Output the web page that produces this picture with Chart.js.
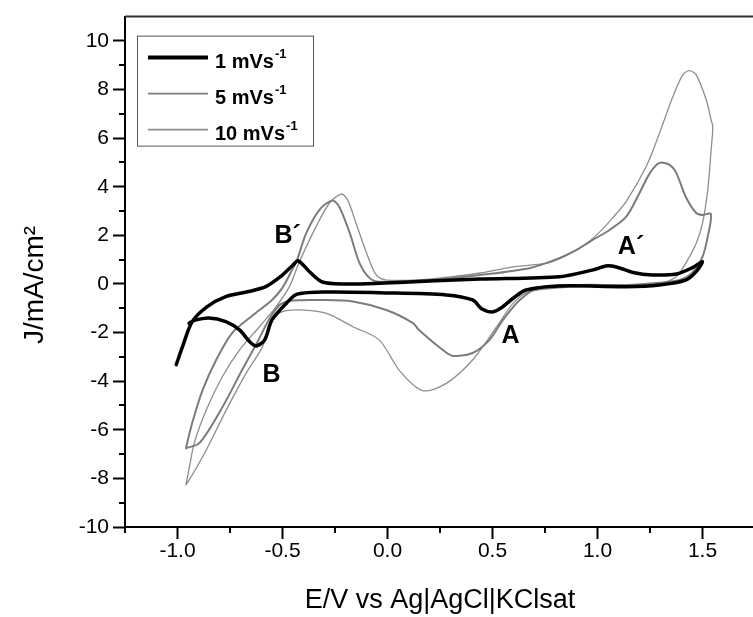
<!DOCTYPE html>
<html>
<head>
<meta charset="utf-8">
<script src="https://cdn.jsdelivr.net/npm/chart.js@4/dist/chart.umd.min.js"></script>
<style>
  html, body { margin: 0; padding: 0; background: #fff; overflow: hidden; }
  #cv-chart { display: block; }
</style>
</head>
<body>
<canvas id="cv-chart" width="760" height="617"></canvas>
<script>
// Potential (V) and current density (mA/cm2), in scan order
const slowX = [-1.006, -0.976, -0.93, -0.86, -0.77, -0.66, -0.58, -0.51, -0.45, -0.425, -0.37, -0.31, -0.2, -0.04, 0.2, 0.44, 0.82, 0.98, 1.04, 1.09, 1.17, 1.26, 1.375, 1.45, 1.5, 1.47, 1.42, 1.295, 1.14, 0.82, 0.66, 0.6, 0.54, 0.5, 0.45, 0.405, 0.28, -0.04, -0.28, -0.43, -0.48, -0.55, -0.585, -0.625, -0.657, -0.705, -0.77, -0.85, -0.92, -0.945];
const slowY = [-3.32, -2.58, -1.55, -0.94, -0.52, -0.31, -0.11, 0.30, 0.78, 0.95, 0.49, 0.08, 0.0, 0.03, 0.12, 0.2, 0.3, 0.58, 0.74, 0.70, 0.47, 0.37, 0.41, 0.66, 0.92, 0.51, 0.16, -0.04, -0.11, -0.08, -0.25, -0.58, -0.99, -1.15, -1.03, -0.66, -0.45, -0.36, -0.33, -0.42, -0.78, -1.48, -2.3, -2.55, -2.37, -1.89, -1.55, -1.4, -1.5, -1.62];

const midX = [-0.96, -0.93, -0.88, -0.816, -0.74, -0.64, -0.55, -0.5, -0.45, -0.43, -0.387, -0.324, -0.263, -0.23, -0.18, -0.133, -0.086, -0.04, 0.2, 0.44, 0.68, 0.82, 0.9, 0.977, 1.057, 1.137, 1.2, 1.25, 1.295, 1.343, 1.375, 1.42, 1.47, 1.5, 1.54, 1.525, 1.5, 1.45, 1.39, 1.295, 1.137, 0.91, 0.72, 0.63, 0.55, 0.486, 0.405, 0.31, 0.264, 0.15, 0.12, -0.006, -0.165, -0.32, -0.45, -0.51, -0.56, -0.62, -0.69, -0.785, -0.895, -0.96];
const midY = [-6.76, -5.72, -4.36, -3.13, -2.02, -1.28, -0.66, -0.15, 0.65, 1.0, 2.09, 3.05, 3.43, 3.18, 2.1, 0.86, 0.25, 0.09, 0.16, 0.37, 0.66, 1.07, 1.4, 1.81, 2.22, 2.77, 3.74, 4.57, 4.98, 4.9, 4.57, 3.59, 2.92, 2.84, 2.88, 1.95, 1.12, 0.45, 0.16, 0.05, -0.04, -0.04, -0.16, -0.66, -1.48, -2.3, -2.84, -2.96, -2.72, -1.89, -1.6, -1.07, -0.72, -0.66, -0.68, -0.84, -1.4, -2.4, -3.5, -5.05, -6.54, -6.76];

const fastX = [-0.96, -0.943, -0.92, -0.863, -0.786, -0.705, -0.61, -0.53, -0.467, -0.42, -0.34, -0.276, -0.22, -0.19, -0.15, -0.1, -0.054, -0.006, 0.2, 0.44, 0.6, 0.77, 0.86, 0.93, 1.0, 1.07, 1.137, 1.232, 1.295, 1.359, 1.406, 1.438, 1.47, 1.518, 1.541, 1.549, 1.541, 1.525, 1.5, 1.47, 1.42, 1.375, 1.295, 1.137, 0.91, 0.676, 0.6, 0.52, 0.405, 0.28, 0.167, 0.06, -0.04, -0.165, -0.29, -0.42, -0.5, -0.55, -0.595, -0.673, -0.768, -0.863, -0.93, -0.96];
const fastY = [-8.27, -7.52, -6.54, -5.19, -3.81, -2.72, -1.76, -0.93, -0.11, 0.9, 2.36, 3.33, 3.7, 3.46, 2.5, 1.28, 0.37, 0.16, 0.2, 0.45, 0.7, 0.88, 1.2, 1.55, 2.05, 2.7, 3.4, 4.83, 6.2, 7.71, 8.6, 8.78, 8.6, 7.57, 6.75, 6.47, 5.51, 3.87, 2.5, 1.67, 0.85, 0.3, 0.03, -0.04, -0.11, -0.32, -0.78, -1.76, -3.13, -4.09, -4.39, -3.6, -2.3, -1.76, -1.21, -1.07, -1.14, -1.48, -2.58, -3.67, -5.19, -6.83, -7.86, -8.27];

const seriesNames = ['1 mVs', '5 mVs', '10 mVs'];
const xTicks = [-1.0, -0.5, 0.0, 0.5, 1.0, 1.5];
const xMinorTicks = [-1.25, -0.75, -0.25, 0.25, 0.75, 1.25];
const yTicks = [-10, -8, -6, -4, -2, 0, 2, 4, 6, 8, 10];
const yMinorTicks = [-9, -7, -5, -3, -1, 1, 3, 5, 7, 9];

// Peak labels, anchored at the left end of their baseline (data units)
const peakNames = ['B´', 'B', 'A', 'A´'];
const peakX = [-0.538, -0.595, 0.543, 1.097];
const peakY = [1.69, -4.03, -2.43, 1.23];

const FONT = "'Liberation Sans', Arial, Helvetica, sans-serif";

function toPoints(xs, ys) {
    return xs.map((x, i) => ({ x: x, y: ys[i] }));
}

// Frame top, minor ticks, peak labels, legend box and y title
const decorations = {
    id: 'decorations',
    afterDraw(chart) {
        const { ctx, chartArea } = chart;
        const xs = chart.scales.x;
        const ys = chart.scales.y;
        ctx.save();

        // top edge of the frame
        ctx.strokeStyle = '#333';
        ctx.lineWidth = 2;
        ctx.beginPath();
        ctx.moveTo(chartArea.left, chartArea.top);
        ctx.lineTo(chartArea.right, chartArea.top);
        ctx.stroke();

        // minor ticks
        ctx.strokeStyle = '#000';
        ctx.lineWidth = 2;
        ctx.beginPath();
        xMinorTicks.forEach(v => {
            const px = Math.round(xs.getPixelForValue(v));
            ctx.moveTo(px, chartArea.bottom);
            ctx.lineTo(px, chartArea.bottom + 6);
        });
        yMinorTicks.forEach(v => {
            const py = Math.round(ys.getPixelForValue(v));
            ctx.moveTo(chartArea.left, py);
            ctx.lineTo(chartArea.left - 6, py);
        });
        ctx.stroke();

        // peak labels
        ctx.fillStyle = '#000';
        ctx.font = 'bold 25px ' + FONT;
        ctx.textAlign = 'left';
        ctx.textBaseline = 'alphabetic';
        peakNames.forEach((name, i) => {
            ctx.fillText(name, xs.getPixelForValue(peakX[i]), ys.getPixelForValue(peakY[i]));
        });

        // legend
        const boxX = chartArea.left + 12;
        const boxY = chartArea.top + 19;
        ctx.strokeStyle = '#555';
        ctx.lineWidth = 1;
        ctx.strokeRect(boxX + 0.5, boxY + 0.5, 176, 110);
        chart.data.datasets.forEach((ds, i) => {
            const lineY = boxY + 22 + i * 36;
            ctx.strokeStyle = ds.borderColor;
            ctx.lineWidth = i === 0 ? 4 : 1.6;
            ctx.beginPath();
            ctx.moveTo(boxX + 11, lineY);
            ctx.lineTo(boxX + 71, lineY);
            ctx.stroke();

            ctx.fillStyle = '#000';
            ctx.font = 'bold 20px ' + FONT;
            const textX = boxX + 78;
            ctx.fillText(seriesNames[i], textX, lineY + 10);
            const w = ctx.measureText(seriesNames[i]).width;
            ctx.font = 'bold 13px ' + FONT;
            ctx.fillText('-1', textX + w + 1, lineY);
        });

        // y axis title
        ctx.fillStyle = '#000';
        ctx.font = '28px ' + FONT;
        ctx.textAlign = 'center';
        ctx.textBaseline = 'middle';
        ctx.translate(35, 285);
        ctx.rotate(-Math.PI / 2);
        ctx.fillText('J/mA/cm²', 0, 0);

        ctx.restore();
    }
};

function initializeChart() {
    const ctx = document.getElementById('cv-chart');
    new Chart(ctx, {
        type: 'scatter',
        data: {
            datasets: [{
                label: '1 mV/s',
                data: toPoints(slowX, slowY),
                borderColor: '#000000',
                borderWidth: 3.5
            }, {
                label: '5 mV/s',
                data: toPoints(midX, midY),
                borderColor: '#7c7c7c',
                borderWidth: 2
            }, {
                label: '10 mV/s',
                data: toPoints(fastX, fastY),
                borderColor: '#8e8e8e',
                borderWidth: 1.3
            }]
        },
        options: {
            responsive: false,
            animation: false,
            showLine: true,
            layout: { padding: { top: 16, right: 5, left: 0, bottom: 0 } },
            elements: {
                point: { radius: 0, hoverRadius: 0 },
                line: { tension: 0.3, fill: false, borderCapStyle: 'round', borderJoinStyle: 'round' }
            },
            plugins: {
                legend: { display: false },
                tooltip: { enabled: false }
            },
            scales: {
                x: {
                    type: 'linear',
                    min: -1.25,
                    max: 1.75,
                    afterBuildTicks: s => { s.ticks = xTicks.map(v => ({ value: v })); },
                    afterFit: s => { s.height = 90; },
                    border: { color: '#000', width: 2 },
                    grid: { drawOnChartArea: false, drawTicks: true, tickLength: 12, tickWidth: 2, tickColor: '#000' },
                    ticks: {
                        color: '#000',
                        font: { family: FONT, size: 21 },
                        padding: 0,
                        maxRotation: 0,
                        autoSkip: false,
                        callback: v => v.toFixed(1)
                    },
                    title: {
                        display: true,
                        text: 'E/V vs Ag|AgCl|KClsat',
                        color: '#000',
                        font: { family: FONT, size: 27, lineHeight: 1.2 },
                        padding: 0
                    }
                },
                y: {
                    type: 'linear',
                    min: -10,
                    max: 11,
                    afterBuildTicks: s => { s.ticks = yTicks.map(v => ({ value: v })); },
                    afterFit: s => { s.width = 125; },
                    border: { color: '#000', width: 2 },
                    grid: { drawOnChartArea: false, drawTicks: true, tickLength: 12, tickWidth: 2, tickColor: '#000' },
                    ticks: {
                        color: '#000',
                        font: { family: FONT, size: 21 },
                        padding: 4,
                        autoSkip: false,
                        callback: v => String(v)
                    }
                }
            }
        },
        plugins: [decorations]
    });
}

initializeChart();
</script>
</body>
</html>
